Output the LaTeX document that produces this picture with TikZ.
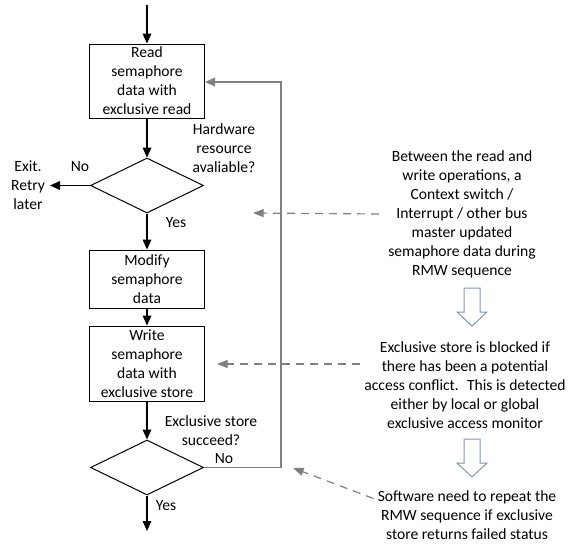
\documentclass[tikz,border=0pt]{standalone}
\usepackage{fontspec}
\setmainfont{Carlito}
\usetikzlibrary{arrows.meta,positioning,shapes.geometric}

\definecolor{linegray}{HTML}{808080}
\definecolor{arrowblue}{HTML}{7F97BC}

\tikzset{
  block/.style={draw,line width=0.75pt,align=center,minimum width=86.25pt,inner xsep=1pt,inner ysep=0pt},
  decision/.style={draw,line width=0.75pt,diamond,minimum width=84.75pt,minimum height=41.25pt,inner sep=0pt},
  flow/.style={line width=0.9pt,-{Triangle[length=7.5pt,width=6.5pt]}},
  loopback/.style={line width=0.9pt,linegray,-{Triangle[length=7.5pt,width=6.5pt]}},
  hint/.style={line width=0.9pt,linegray,dash pattern=on 6pt off 4.5pt,-{Triangle[length=8pt,width=6pt]}},
  hollow/.style={draw=arrowblue,fill=white,line width=0.75pt},
  note/.style={align=center,inner sep=3pt}
}

\begin{document}
\begin{tikzpicture}[x=0.75pt,y=-0.75pt,font=\fontsize{11.7}{14.25}\selectfont]
  \useasboundingbox (0,0) rectangle (571,543);

  % flow chart
  \node[block,minimum height=55.5pt]   (read)    at (147,81)    {Read\\semaphore\\data with\\exclusive read};
  \node[decision]                      (avail)   at (147,185.5) {};
  \node[block,minimum height=43.5pt]   (modify)  at (147,279)   {Modify\\semaphore\\data};
  \node[block,minimum height=56.25pt]  (write)   at (147,363.5) {Write\\semaphore\\data with\\exclusive store};
  \node[decision]                      (success) at (147,467.5) {};

  \coordinate (start)  at (147,5);
  \coordinate (exit)   at (50,185.5);
  \coordinate (finish) at (147,531);
  \coordinate (corner) at (281,82);

  \draw[flow] (start) -- (read);
  \draw[flow] (read) -- (avail);
  \draw[flow] (avail.west) -- (exit);
  \draw[flow] (avail) -- (modify);
  \draw[flow] (modify) -- (write);
  \draw[flow] (write) -- (success);
  \draw[flow] (success) -- (finish);
  \draw[loopback] (success.east) -| (corner) -- (read.east |- corner);

  % labels
  \node (availq)  at (224,148.5) [align=center] {Hardware\\resource\\avaliable?};
  \node (availno) at (80,167)    {No};
  \node (exitlbl) at (28,185)    [align=center] {Exit.\\Retry\\later};
  \node (availyes) at (176,223)  {Yes};
  \node (succq)   at (211,431)   [align=center] {Exclusive store\\succeed?};
  \node (succno)  at (224,459)   {No};
  \node (succyes) at (166,506)   {Yes};

  % notes
  \node[note] (switch)  at (462,214) {Between the read and\\write operations, a\\Context switch /\\Interrupt / other bus\\master updated\\semaphore data during\\RMW sequence};
  \node[note] (blocked) at (465,385) {Exclusive store is blocked if\\there has been a potential\\access conflict.~ This is detected\\either by local or global\\exclusive access monitor};
  \node[note] (repeat)  at (467,515) {Software need to repeat the\\RMW sequence if exclusive\\store returns failed status};

  \coordinate (hit1) at (253,213);
  \coordinate (hit2) at (217,364);
  \coordinate (hit3) at (293,468);

  \draw[hint] (switch.west) ++(-5,0) -- (hit1);
  \draw[hint] (blocked.west |- hit2) -- (hit2);
  \draw[hint] (repeat.170) -- (hit3);

  % hollow arrows between notes
  \foreach \y in {288,439}
    \draw[hollow,shift={(0,\y)}] (464,0) -- (480,0) -- (480,24) -- (487,24) -- (472,38) -- (457,24) -- (464,24) -- cycle;
\end{tikzpicture}
\end{document}
